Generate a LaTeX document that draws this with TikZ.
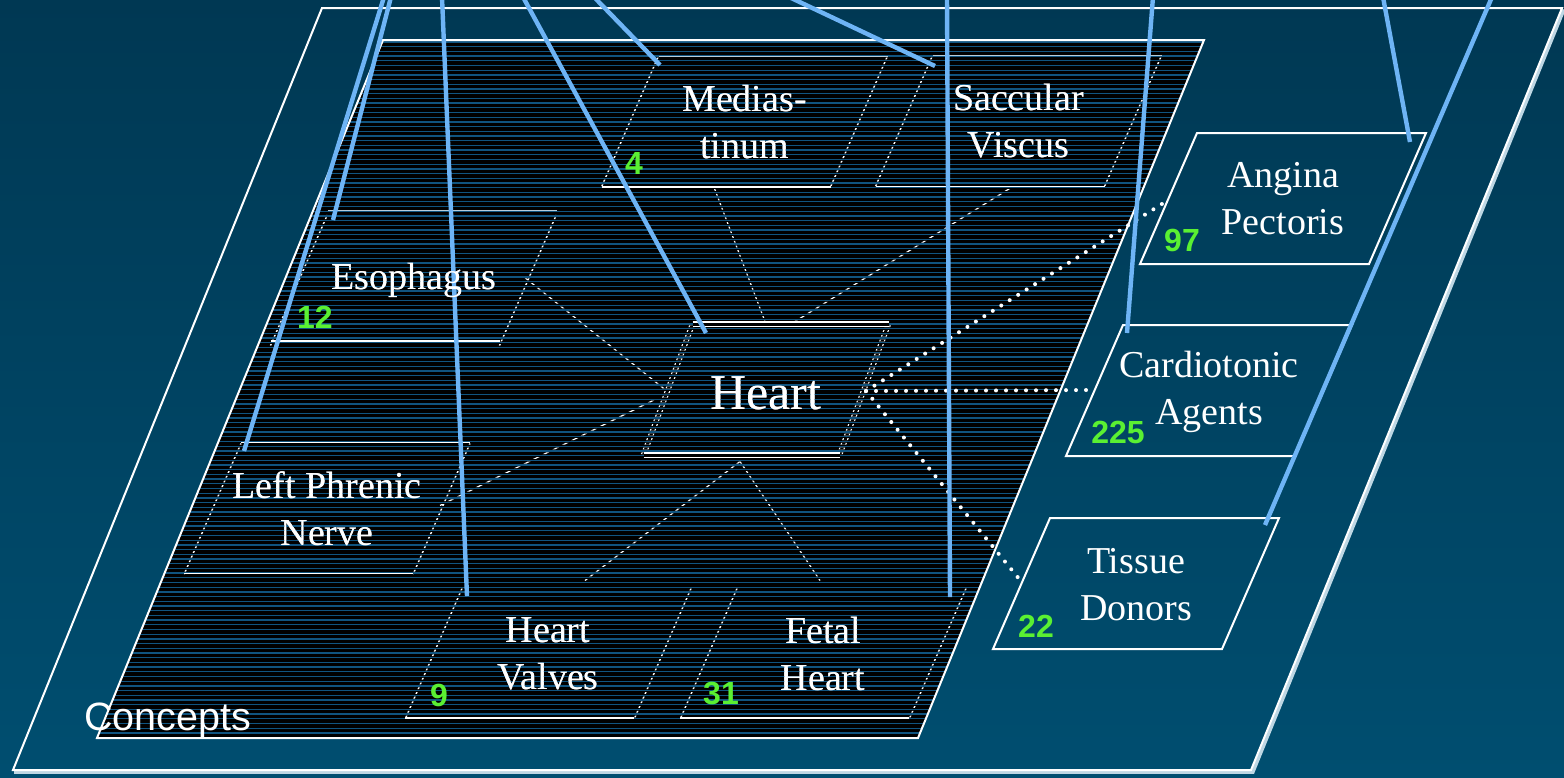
\documentclass[tikz,border=0pt]{standalone}
\usepackage{fontspec}
\setmainfont{Liberation Serif}
\setsansfont{Liberation Sans}
\definecolor{bgtop}{RGB}{0,56,83}
\definecolor{bgbot}{RGB}{0,78,112}
\definecolor{stripecol}{RGB}{16,84,128}
\definecolor{linkblue}{RGB}{110,180,245}
\definecolor{numgreen}{RGB}{90,240,50}
\definecolor{shadowcol}{RGB}{190,215,228}
\newcommand\boxslant[1]{\draw[inedge] ([shift={(-143,65.5)}]#1.center) -- ([shift={(-86,-65.5)}]#1.center) ([shift={(143,-65.5)}]#1.center) -- ([shift={(86,65.5)}]#1.center);}
\begin{document}
\begin{tikzpicture}[x=1pt,y=-1pt,
  lbl/.style={align=center,text=white,inner sep=0pt,font=\fontsize{38}{47}\selectfont},
  num/.style={text=numgreen,inner sep=0pt,font=\fontsize{32}{32}\selectfont\sffamily\bfseries},
  inedge/.style={draw=white,line width=1.4pt},
  topedge/.style={draw=white!70!stripecol,line width=1pt},
  heartedge/.style={draw=white,line width=1.2pt,double=black,double distance=3pt},
  outedge/.style={draw=white,line width=2pt},
  faint/.style={draw=white,line width=1.2pt},
  stripe/.style={draw=stripecol,line width=1.3pt},
  bluelink/.style={draw=linkblue,line width=4.4pt},
  dotlink/.style={draw=white,line width=4pt,line cap=round,dash pattern=on 0pt off 10pt}]
\useasboundingbox (0,0) rectangle (1564,777);
\fill[top color=bgtop,bottom color=bgbot] (0,0) rectangle (1564,777);
% outer plane with its light shadow
\draw[shadowcol,line width=3.6pt] (1563.8,9.5) -- (1252.8,772) -- (14,772);
\draw[outedge] (13,770) -- (322,8) -- (1562,8) -- (1251,770) -- cycle;
% inner concept plane
\fill[black] (97,738) -- (383,40) -- (1204,40) -- (918,738) -- cycle;
% nodes
\node[lbl] (med) at (744.5,121.5) {Medias-\\tinum};
\node[lbl] (sac) at (1018.5,121) {Saccular\\Viscus};
\node[lbl] (eso) at (413.5,280) {Esophagus};
\node[lbl] (lpn) at (327,509) {Left Phrenic\\Nerve};
\node[lbl] (hv) at (548,654) {Heart\\Valves};
\node[lbl] (fh) at (823,654) {Fetal\\Heart};
\node[lbl,font=\fontsize{50}{56}\selectfont] (heart) at (766,393.5) {Heart};
\node[lbl] (ang) at (1283,199) {Angina\\Pectoris};
\node[lbl] (car) at (1209,392) {Cardiotonic\\Agents};
\node[lbl] (tis) at (1136,585) {Tissue\\Donors};
% stripes
\begin{scope}
\clip (97,738) -- (383,40) -- (1204,40) -- (918,738) -- cycle;
\foreach \i in {0,...,150} {\draw[stripe] (90,{42+\i*4.7}) -- (1210,{42+\i*4.7});}
\end{scope}
% slanted edges and faint connectors, seen only between the stripes
\begin{scope}
\clip \foreach \i in {0,...,150} {(90,{43.4+\i*4.7}) rectangle (1210,{45.2+\i*4.7})};
\boxslant{med}\boxslant{sac}\boxslant{eso}\boxslant{lpn}\boxslant{hv}\boxslant{fh}
\draw[heartedge] ([shift={(-122.5,61.5)}]heart.center) -- ([shift={(-73.5,-69.5)}]heart.center)
  ([shift={(122.5,-69.5)}]heart.center) -- ([shift={(73.5,61.5)}]heart.center);
\draw[faint] ([shift={(-1,-72)}]heart.center) -- ([shift={(-30,67)}]med.center);
\draw[faint] ([shift={(29,-72)}]heart.center) -- ([shift={(-8,67)}]sac.center);
\draw[faint] ([shift={(-101,-4)}]heart.center) -- ([shift={(110,-3.5)}]eso.center);
\draw[faint] ([shift={(-111,6)}]heart.center) -- ([shift={(113,-3.5)}]lpn.center);
\draw[faint] ([shift={(-26,68)}]heart.center) -- ([shift={(37,-73.5)}]hv.center);
\draw[faint] ([shift={(-26,68)}]heart.center) -- ([shift={(-3,-73.5)}]fh.center);
\end{scope}
% horizontal edges of inner boxes
\draw[topedge] ([shift={(-86,-65.5)}]med.center) -- ([shift={(143,-65.5)}]med.center);
\draw[inedge] ([shift={(-143,65.5)}]med.center) -- ([shift={(86,65.5)}]med.center);
\draw[topedge] ([shift={(-86,-65.5)}]sac.center) -- ([shift={(143,-65.5)}]sac.center);
\draw[inedge] ([shift={(-143,65.5)}]sac.center) -- ([shift={(86,65.5)}]sac.center);
\draw[topedge] ([shift={(-86,-70)}]eso.center) -- ([shift={(143,-70)}]eso.center);
\draw[inedge] ([shift={(-143,61)}]eso.center) -- ([shift={(86,61)}]eso.center);
\draw[inedge] ([shift={(-86,-66.5)}]lpn.center) -- ([shift={(143,-66.5)}]lpn.center) ([shift={(-143,64.5)}]lpn.center) -- ([shift={(86,64.5)}]lpn.center);
\draw[inedge] ([shift={(-143,64)}]hv.center) -- ([shift={(86,64)}]hv.center);
\draw[inedge] ([shift={(-143,64)}]fh.center) -- ([shift={(86,64)}]fh.center);
\draw[heartedge] ([shift={(-73.5,-69.5)}]heart.center) -- ([shift={(122.5,-69.5)}]heart.center)
  ([shift={(-122.5,61.5)}]heart.center) -- ([shift={(73.5,61.5)}]heart.center);
\draw[outedge] (97,738) -- (383,40) -- (1204,40) -- (918,738) -- cycle;
% outer boxes
\draw[outedge] ([shift={(-143,65)}]ang.center) -- ([shift={(-86,-66)}]ang.center) -- ([shift={(143,-66)}]ang.center) -- ([shift={(86,65)}]ang.center) -- cycle;
\draw[outedge] ([shift={(-143,64)}]car.center) -- ([shift={(-86,-67)}]car.center) -- ([shift={(143,-67)}]car.center) -- ([shift={(86,64)}]car.center) -- cycle;
\draw[outedge] ([shift={(-143,64)}]tis.center) -- ([shift={(-86,-67)}]tis.center) -- ([shift={(143,-67)}]tis.center) -- ([shift={(86,64)}]tis.center) -- cycle;
% dotted links
\coordinate (hr) at ([shift={(100,-2.5)}]heart.center);
\draw[dotlink] (hr) -- ([shift={(-118,3)}]ang.center);
\draw[dotlink] (hr) -- ([shift={(-114,-2)}]car.center);
\draw[dotlink] (hr) -- ([shift={(-116,-5)}]tis.center);
% blue links from above
\coordinate (t1) at (384,-3);
\coordinate (t2) at (391,-3);
\coordinate (t3) at (442,-3);
\coordinate (t4) at (523,-3);
\coordinate (t5) at (594,-3);
\coordinate (t6) at (789,-3);
\coordinate (t7) at (947,-3);
\coordinate (t8) at (1153,-3);
\coordinate (t9) at (1383,-3);
\coordinate (t10) at (1492,-3);
\draw[bluelink] (t1) -- ([shift={(-83,-58)}]lpn.center);
\draw[bluelink] (t2) -- ([shift={(-80.5,-60)}]eso.center);
\draw[bluelink] (t3) -- ([shift={(-81,-58)}]hv.center);
\draw[bluelink] (t4) -- ([shift={(-60,-60.5)}]heart.center);
\draw[bluelink] (t5) -- ([shift={(-84.5,-56.5)}]med.center);
\draw[bluelink] (t6) -- ([shift={(-83.5,-55)}]sac.center);
\draw[bluelink] (t7) -- ([shift={(127,-57)}]fh.center);
\draw[bluelink] (t8) -- ([shift={(-82,-59)}]car.center);
\draw[bluelink] (t9) -- ([shift={(127,-57)}]ang.center);
\draw[bluelink] (t10) -- ([shift={(129,-60)}]tis.center);
% labels on top
\node[lbl] at (med) {Medias-\\tinum};
\node[lbl] at (sac) {Saccular\\Viscus};
\node[lbl] at (eso) {Esophagus};
\node[lbl] at (lpn) {Left Phrenic\\Nerve};
\node[lbl] at (hv) {Heart\\Valves};
\node[lbl] at (fh) {Fetal\\Heart};
\node[lbl,font=\fontsize{50}{56}\selectfont] at (heart) {Heart};
% counts
\node[num] (n4) at (634,163) {4};
\node[num] (n12) at (315,317) {12};
\node[num] (n9) at (439,695) {9};
\node[num] (n31) at (721,693) {31};
\node[num] (n97) at (1182,240) {97};
\node[num] (n225) at (1118,432) {225};
\node[num] (n22) at (1036,626) {22};
\node[text=white,inner sep=0pt,anchor=base west,font=\fontsize{39.5}{39.5}\selectfont\sffamily] (concepts) at (84,730) {Concepts};
\end{tikzpicture}
\end{document}
